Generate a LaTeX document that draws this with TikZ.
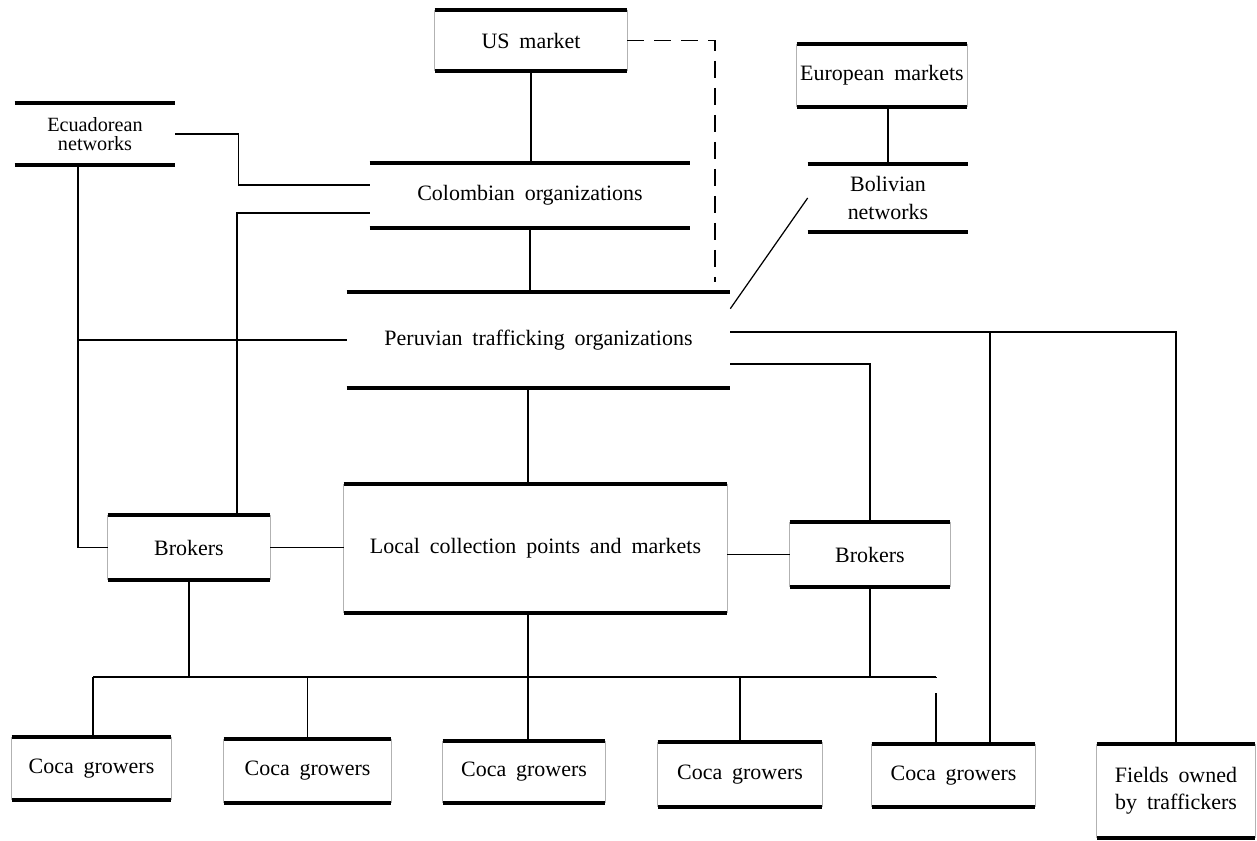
\documentclass[tikz,border=0pt]{standalone}
\usepackage{fontspec}
\setmainfont{Liberation Serif}
\usepackage{tikz}

\newcommand\lblfont{\fontsize{12.5}{14.5}\selectfont\spaceskip=0.45em\relax}

\tikzset{
  lbl/.style={font=\lblfont, align=center, inner sep=0pt},
  rule/.style={line width=2.2pt},
  side/.style={gray!60, line width=0.4pt},
  link/.style={line width=0.7pt},
}

\begin{document}
\begin{tikzpicture}[x=0.02cm,y=-0.02cm]
\useasboundingbox (0,0) rectangle (1257,841);

\node[lbl, minimum width=3.84cm, minimum height=1.22cm] (us) at (531,40.5) {US market};
\node[lbl, minimum width=3.40cm, minimum height=1.26cm] (eur) at (882,75.5) {European markets};
\node[lbl, font=\fontsize{11.5}{13}\selectfont, minimum width=3.20cm, minimum height=1.24cm] (ecu) at (95,134) {Ecuadorean\\[-2pt] networks};
\node[lbl, minimum width=6.40cm, minimum height=1.30cm] (col) at (530,195.5) {Colombian organizations};
\node[lbl, minimum width=3.20cm, minimum height=1.36cm] (bol) at (888,198) {Bolivian\\[1pt] networks};
\node[lbl, minimum width=7.66cm, minimum height=1.92cm] (per) at (538.5,340) {Peruvian trafficking organizations};
\node[lbl, minimum width=7.66cm, minimum height=2.58cm] (loc) at (535.5,548.5) {Local collection points and markets};
\node[lbl, minimum width=3.24cm, minimum height=1.30cm] (brl) at (189,547.5) {Brokers};
\node[lbl, minimum width=3.20cm, minimum height=1.30cm] (brr) at (870,554.5) {Brokers};
\node[lbl, minimum width=3.18cm, minimum height=1.26cm] (cg1) at (91.5,768.5) {Coca growers};
\node[lbl, minimum width=3.34cm, minimum height=1.28cm] (cg2) at (307.5,771) {Coca growers};
\node[lbl, minimum width=3.24cm, minimum height=1.24cm] (cg3) at (524,772) {Coca growers};
\node[lbl, minimum width=3.28cm, minimum height=1.30cm] (cg4) at (740,774.5) {Coca growers};
\node[lbl, minimum width=3.26cm, minimum height=1.26cm] (cg5) at (953.5,775.5) {Coca growers};
\node[lbl, minimum width=3.16cm, minimum height=1.88cm] (fld) at (1176,791) {Fields owned\\[1pt] by traffickers};

% bus over the growers
\coordinate (busL) at (93,677);
\coordinate (busR) at (936,677);
\coordinate (pright) at ([yshift=0.16cm]per.east);

\foreach \b in {us,eur,ecu,col,bol,per,loc,brl,brr,cg1,cg2,cg3,cg4,cg5,fld}
\draw[rule] (\b.north west)--(\b.north east) (\b.south west)--(\b.south east);
\foreach \b in {us,eur,loc,brl,brr,cg1,cg2,cg3,cg4,cg5,fld}
\draw[side] (\b.north west)--(\b.south west) (\b.north east)--(\b.south east);

\draw[link] (us.south)--(us.south |- col.north);
\draw[link,dash pattern=on 0.34cm off 0.2cm] (us.east) -| ([xshift=3.53cm,yshift=0.2cm]per.north);
\draw[link] (col.south)--(col.south |- per.north);
\draw[link] (ecu.east)--++(63,0) |- ([yshift=0.21cm]col.west);
\draw[link] ([yshift=-0.35cm]col.west) -| ([xshift=0.96cm]brl.north);
\draw[link] ([xshift=-0.34cm]ecu.south) |- (brl.west);
\draw[link] ([xshift=-0.34cm]ecu.south |- per.west)--(per.west);
\draw[link] (bol.north |- eur.south)--(bol.north);
\draw[link] (bol.west)--([yshift=-0.34cm]per.north east);
\draw[link] (pright) -| (fld.north);
\draw[link] ([xshift=0.73cm]cg5.north |- pright)--([xshift=0.73cm]cg5.north);
\draw[link] ([yshift=-0.48cm]per.east) -| (brr.north);
\draw[link] ([xshift=-0.21cm]per.south)--([xshift=-0.21cm]per.south |- loc.north);
\draw[link] (brl.east)--(brl.east -| loc.west);
\draw[link] (loc.east |- brr.west)--(brr.west);
\draw[link] ([xshift=-0.15cm]loc.south)--([xshift=-0.15cm]loc.south |- cg3.north);
\draw[link] (brl.south)--(brl.south |- busL);
\draw[link] (brr.south)--(brr.south |- busR);
\draw[link] (busL)--(busR);
\draw[link] (busL)--(busL |- cg1.north);
\draw[link] (cg2.north |- busL)--(cg2.north);
\draw[link] (cg4.north |- busL)--(cg4.north);
\draw[link,dash pattern=on 0.6pt off 0.3cm on 2cm] (busR)--(busR |- cg5.north);
\end{tikzpicture}
\end{document}
